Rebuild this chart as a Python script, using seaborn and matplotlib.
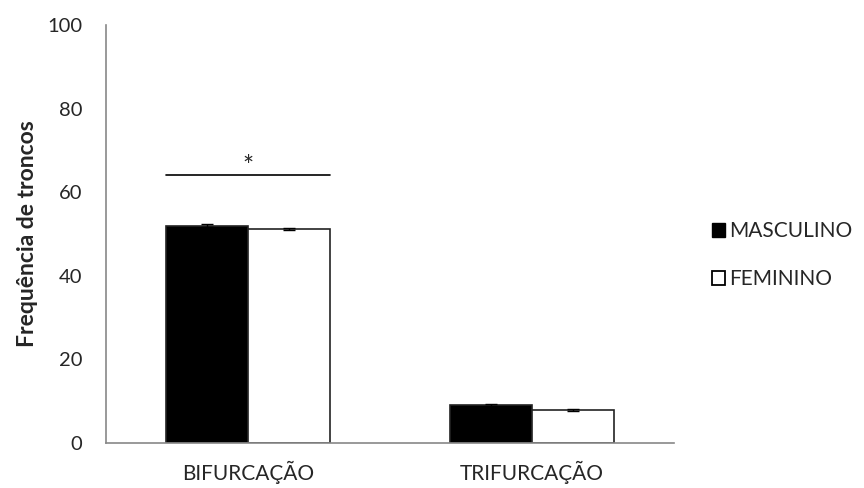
import matplotlib
matplotlib.use("Agg")
import matplotlib.pyplot as plt
import seaborn as sns
import pandas as pd
from matplotlib.patches import Patch

categories = ["BIFURCAÇÃO", "TRIFURCAÇÃO"]
groups = ["MASCULINO", "FEMININO"]
masculino = [52.0, 9.0]
feminino = [51.2, 8.0]
err_masculino = [0.35, 0.3]
err_feminino = [0.25, 0.25]
y_ticks = [0, 20, 40, 60, 80, 100]

sns.set_theme(style="white")
plt.rcParams["font.family"] = ["Lato", "DejaVu Sans"]

df = pd.DataFrame({
    "categoria": categories * 2,
    "sexo": [groups[0]] * 2 + [groups[1]] * 2,
    "valor": masculino + feminino,
})

fig = plt.figure(figsize=(8.64, 4.88), dpi=100)
ax = fig.add_axes([0.1227, 0.0922, 0.6573, 0.8566])

sns.barplot(data=df, x="categoria", y="valor", hue="sexo", order=categories,
            hue_order=groups, palette={"MASCULINO": "black", "FEMININO": "white"},
            width=0.58, errorbar=None, edgecolor="#222222", linewidth=1.2,
            legend=False, ax=ax)

# error bars centered on each bar
errs = err_masculino + err_feminino
vals = masculino + feminino
for patch, v, e in zip(ax.patches, vals, errs):
    xc = patch.get_x() + patch.get_width() / 2
    ax.errorbar(xc, v, yerr=e, color="black", capsize=4, capthick=1, elinewidth=1)

ax.set_xlim(-0.5, 1.5)
ax.set_ylim(0, 100)
ax.set_yticks(y_ticks)
ax.set_xticks([-0.5, 0.5, 1.5], minor=False)
ax.set_xticklabels(["", "", ""])
ax.set_xticks([0, 1], minor=True)
ax.set_xticklabels(categories, minor=True)
ax.tick_params(axis="x", which="minor", length=0, pad=13, labelsize=15)
ax.tick_params(axis="x", which="major", length=6, direction="out", color="#888888", width=1)
ax.tick_params(axis="y", length=6, direction="out", color="#888888", width=1, labelsize=14.5, pad=11)
ax.set_xlabel("")
ax.set_ylabel("Frequência de troncos", fontsize=16.5, fontweight="bold", labelpad=7)

for side in ["top", "right"]:
    ax.spines[side].set_visible(False)
for side in ["left", "bottom"]:
    ax.spines[side].set_color("#888888")
    ax.spines[side].set_linewidth(1.2)

# significance bracket over the first group
bx0 = ax.patches[0].get_x()
bx1 = ax.patches[2].get_x() + ax.patches[2].get_width()
ax.plot([bx0, bx1], [64.2, 64.2], color="black", lw=1.2, clip_on=False)
ax.text((bx0 + bx1) / 2, 68.8, "*", ha="center", va="top", fontsize=19)

handles = [Patch(facecolor="black", edgecolor="black", label=groups[0]),
           Patch(facecolor="white", edgecolor="black", linewidth=1.3, label=groups[1])]
fig.legend(handles=handles, loc="center left", bbox_to_anchor=(0.814, 0.477),
           frameon=False, fontsize=15, handlelength=0.65, handleheight=0.65,
           handletextpad=0.2, labelspacing=1.35, borderaxespad=0.0)

fig.savefig("out.png", dpi=100)
